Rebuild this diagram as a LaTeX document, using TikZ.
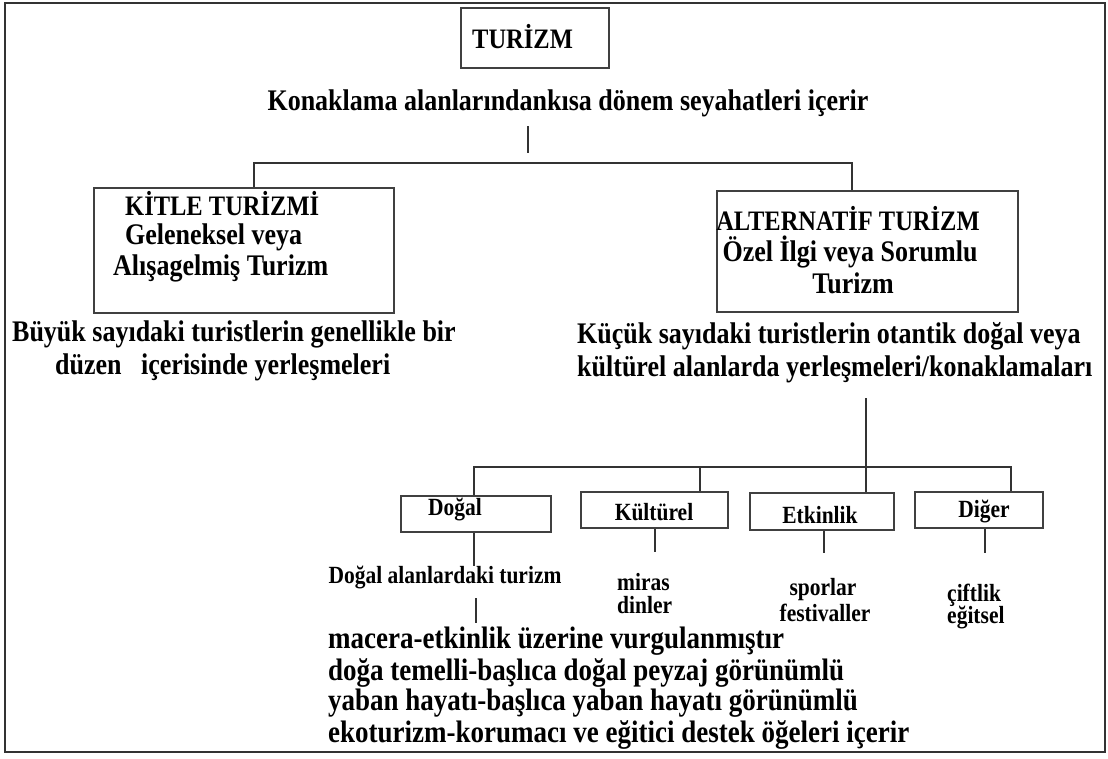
\documentclass[tikz,border=0pt]{standalone}
\usepackage{fontspec}
\setmainfont{Liberation Serif}
\newcommand{\vs}[1]{\scalebox{1}[1.15]{#1}}
\begin{document}
\begin{tikzpicture}[x=1pt,y=-1pt,
  ln/.style={draw=black!80, line width=1.6pt},
  bx/.style={draw=black!75, line width=2pt, rectangle, inner sep=0pt},
  big/.style={font=\bfseries\fontsize{26}{31}\selectfont, inner sep=0pt},
  mid/.style={font=\bfseries\fontsize{24.5}{29}\selectfont, inner sep=0pt},
  sm/.style={font=\bfseries\fontsize{21.5}{24}\selectfont, inner sep=0pt},
  lst/.style={font=\bfseries\fontsize{27}{31}\selectfont, inner sep=0pt}]
\useasboundingbox (0,0) rectangle (1108,758);
\draw[draw=black!80, line width=1.6pt] (5,3) rectangle (1105,752);
% top box
\node[bx, minimum width=148pt, minimum height=60pt] (turbox) at (535,38) {};
\node[mid, anchor=west] (turtxt) at (472,37) {\vs{TURİZM}};
\node[big] (konak) at (568,103) {\vs{Konaklama alanlarındankısa dönem seyahatleri içerir}};
\coordinate (tickA) at (528,126);
\coordinate (tickB) at (528,153);
\draw[ln] (tickA) -- (tickB);
% level 2 boxes
\node[bx, minimum width=300pt, minimum height=125pt] (kitle) at (244,250.5) {};
\node[bx, minimum width=301pt, minimum height=121pt] (alt) at (867.5,251.5) {};
\coordinate (hL) at (254,163);
\coordinate (hR) at (852,163);
\draw[ln] (kitle.north -| hL) -- (hL) -- (hR) -- (alt.north -| hR);
\node[mid, anchor=west] (k1) at (125,204) {\vs{KİTLE TURİZMİ}};
\node[big, anchor=west] (k2) at (125,237) {\vs{Geleneksel veya}};
\node[big, anchor=west] (k3) at (113,268) {\vs{Alışagelmiş Turizm}};
\node[mid] (a1) at (848,219) {\vs{ALTERNATİF TURİZM}};
\node[big] (a2) at (850,252) {\vs{Özel İlgi veya Sorumlu}};
\node[big] (a3) at (853,283) {\vs{Turizm}};
\node[big, anchor=west] (b1) at (12,334) {\vs{Büyük sayıdaki turistlerin genellikle bir}};
\node[big, anchor=west] (b2) at (55,367) {\vs{düzen\ \ \ içerisinde yerleşmeleri}};
\node[big, anchor=west] (c1) at (577,336) {\vs{Küçük sayıdaki turistlerin otantik doğal veya}};
\node[big, anchor=west] (c2) at (577,369) {\vs{kültürel alanlarda yerleşmeleri/konaklamaları}};
% level 3
\node[bx, minimum width=150pt, minimum height=36pt] (dogal) at (476,514) {};
\node[bx, minimum width=147pt, minimum height=36pt] (kult) at (654.5,510) {};
\node[bx, minimum width=144pt, minimum height=37pt] (etk) at (822,511.5) {};
\node[bx, minimum width=128pt, minimum height=36pt] (dig) at (979,510) {};
\coordinate (vTop) at (866,398);
\coordinate (h3L) at (474,467);
\coordinate (h3R) at (1011,467);
\draw[ln] (vTop) -- (etk.north -| vTop);
\draw[ln] (dogal.north -| h3L) -- (h3L) -- (h3R) -- (dig.north -| h3R);
\coordinate (kTop) at (700,467);
\draw[ln] (kTop) -- (kult.north -| kTop);
\node[sm, anchor=west] (t1) at (428,510) {\vs{Doğal}};
\node[sm] (t2) at (654,512) {\vs{Kültürel}};
\node[sm] (t3) at (820,515) {\vs{Etkinlik}};
\node[sm] (t4) at (984,512) {\vs{Diğer}};
% level 4
\node[sm] (d1) at (445,578) {\vs{Doğal alanlardaki turizm}};
\draw[ln] (dogal.south -| 474,0) -- (d1.north -| 474,0);
\coordinate (dl) at (476,598);
\draw[ln] (dl) -- ++(0,25);
\draw[ln] (kult.south -| 655,0) -- ++(0,23);
\node[sm, anchor=west] (m1) at (617,582) {\vs{miras}};
\node[sm, anchor=west] (m2) at (617,605) {\vs{dinler}};
\draw[ln] (etk.south -| 824,0) -- ++(0,22);
\node[sm] (s1) at (823,590) {\vs{sporlar}};
\node[sm] (s2) at (825,613) {\vs{festivaller}};
\draw[ln] (dig.south -| 985,0) -- ++(0,24);
\node[sm, anchor=west] (c3) at (947,595) {\vs{çiftlik}};
\node[sm, anchor=west] (c4) at (947,618) {\vs{eğitsel}};
\node[lst, anchor=west] (l1) at (328,641) {\vs{macera-etkinlik üzerine vurgulanmıştır}};
\node[lst, anchor=west] (l2) at (328,673) {\vs{doğa temelli-başlıca doğal peyzaj görünümlü}};
\node[lst, anchor=west] (l3) at (328,703) {\vs{yaban hayatı-başlıca yaban hayatı görünümlü}};
\node[lst, anchor=west] (l4) at (328,735) {\vs{ekoturizm-korumacı ve eğitici destek öğeleri içerir}};
\end{tikzpicture}
\end{document}
